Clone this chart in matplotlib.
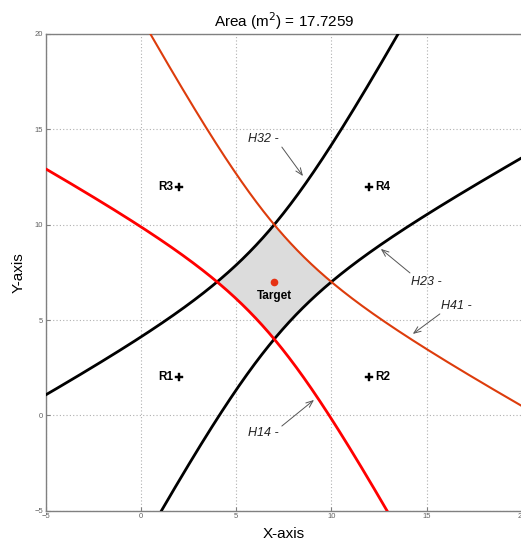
import numpy as np
import matplotlib
matplotlib.use("Agg")
import matplotlib.pyplot as plt

plt.rcParams['font.family'] = ['Liberation Sans', 'DejaVu Sans']

# ---- data ----
receiver_names = ['R1', 'R2', 'R3', 'R4']
receiver_x = [2, 12, 2, 12]
receiver_y = [2, 2, 12, 12]
target_xy = (7, 7)
# hyperbolas: (name, near focus, far focus, range difference)
hyp_names = ['H32', 'H23', 'H14', 'H41']
hyp_near = ['R3', 'R2', 'R1', 'R4']
hyp_far = ['R2', 'R3', 'R4', 'R1']
range_diff = [4.05, 4.05, 4.05, 4.05]
hyp_colors = ['#000000', '#000000', '#ff0000', '#dd3c0c']
hyp_widths = [2.0, 2.0, 2.0, 1.5]
area_value = 17.7259
x_ticks = [-5, 0, 5, 10, 15, 20]
y_ticks = [-5, 0, 5, 10, 15, 20]
# annotation: text position, arrow tail, arrow head (data coords)
ann_text = ['H32 -', 'H23 -', 'H41 -', 'H14 -']
ann_text_xy = [(5.62, 14.49), (14.18, 7.0), (15.76, 5.74), (5.62, -0.92)]
ann_tail = [(7.4, 14.07), (14.13, 7.47), (15.7, 5.32), (7.4, -0.56)]
ann_head = [(8.51, 12.55), (12.6, 8.73), (14.28, 4.27), (9.09, 0.81)]

pos = {n: np.array([x, y], float) for n, x, y in zip(receiver_names, receiver_x, receiver_y)}

def branch(fn, ff, d, t):
    m = (fn + ff) / 2
    c = np.linalg.norm(fn - ff) / 2
    a = d / 2
    b = np.sqrt(c**2 - a**2)
    u = (fn - ff) / (2 * c)
    v = np.array([-u[1], u[0]])
    return (m[:, None] + a * np.cosh(t) * u[:, None] + b * np.sinh(t) * v[:, None])

W, H = 521, 544
fig = plt.figure(figsize=(W / 100, H / 100), dpi=100)
x0, x1 = 45.8, 521.7
y0, y1 = 34.0, 510.7
ax = fig.add_axes([x0 / W, 1 - y1 / H, (x1 - x0) / W, (y1 - y0) / H])

# shaded region
gx = np.linspace(2, 12, 1200)
gy = np.linspace(2, 12, 1200)
GX, GY = np.meshgrid(gx, gy)
def dist(p):
    return np.hypot(GX - p[0], GY - p[1])
f1 = np.abs(dist(pos['R2']) - dist(pos['R3'])) - range_diff[0]
f2 = np.abs(dist(pos['R1']) - dist(pos['R4'])) - range_diff[2]
F = np.maximum(f1, f2)
ax.contourf(GX, GY, F, levels=[-100, 0], colors=['#dcdcdc'], zorder=1)

t = np.linspace(-3, 3, 2000)
for n, fn, ff, d, col, lw in zip(hyp_names, hyp_near, hyp_far, range_diff, hyp_colors, hyp_widths):
    P = branch(pos[fn], pos[ff], d, t)
    ax.plot(P[0], P[1], color=col, lw=lw, zorder=3, solid_capstyle='butt')

# receivers
ax.plot(receiver_x, receiver_y, linestyle='none', marker='P', ms=6.2, color='black',
        markeredgewidth=0.3, markeredgecolor='black', zorder=4)
for n, x, y in zip(receiver_names, receiver_x, receiver_y):
    if x < target_xy[0]:
        ax.text(x - 0.3, y, n, ha='right', va='center', fontsize=8.5, fontweight='bold', zorder=5)
    else:
        ax.text(x + 0.3, y, n, ha='left', va='center', fontsize=8.5, fontweight='bold', zorder=5)

ax.plot([target_xy[0]], [target_xy[1]], 'o', color='#e63214', ms=5.5, markeredgewidth=0, zorder=5)
ax.text(target_xy[0], target_xy[1] - 0.4, 'Target', ha='center', va='top', fontsize=8.5,
        fontweight='bold', zorder=5)

for txt, txy, tail, head in zip(ann_text, ann_text_xy, ann_tail, ann_head):
    ax.text(txy[0], txy[1], txt, ha='left', va='center', fontsize=9, style='italic',
            color='#222222', zorder=5)
    ax.annotate('', xy=head, xytext=tail,
                arrowprops=dict(arrowstyle='->,head_length=0.5,head_width=0.2',
                                color='#555555', lw=0.7, shrinkA=0, shrinkB=0), zorder=5)

ax.set_xlim(-5, 20)
ax.set_ylim(-5, 20)
ax.set_xticks(x_ticks)
ax.set_yticks(y_ticks)
ax.grid(True, linestyle=(0, (1, 2)), color='#b0b0b0', lw=0.8, zorder=0)
ax.set_axisbelow(True)
ax.tick_params(direction='in', length=3, width=0.8, colors='#808080', labelsize=5.5,
               labelcolor='#606060', pad=2)
for s in ax.spines.values():
    s.set_color('#808080')
    s.set_linewidth(1.0)
ax.set_title('Area (m$^2$) = %.4f' % area_value, fontsize=11, pad=5)
ax.set_xlabel('X-axis', fontsize=11, labelpad=5)
ax.set_ylabel('Y-axis', fontsize=11, labelpad=6)

fig.savefig('out.png', dpi=100)
